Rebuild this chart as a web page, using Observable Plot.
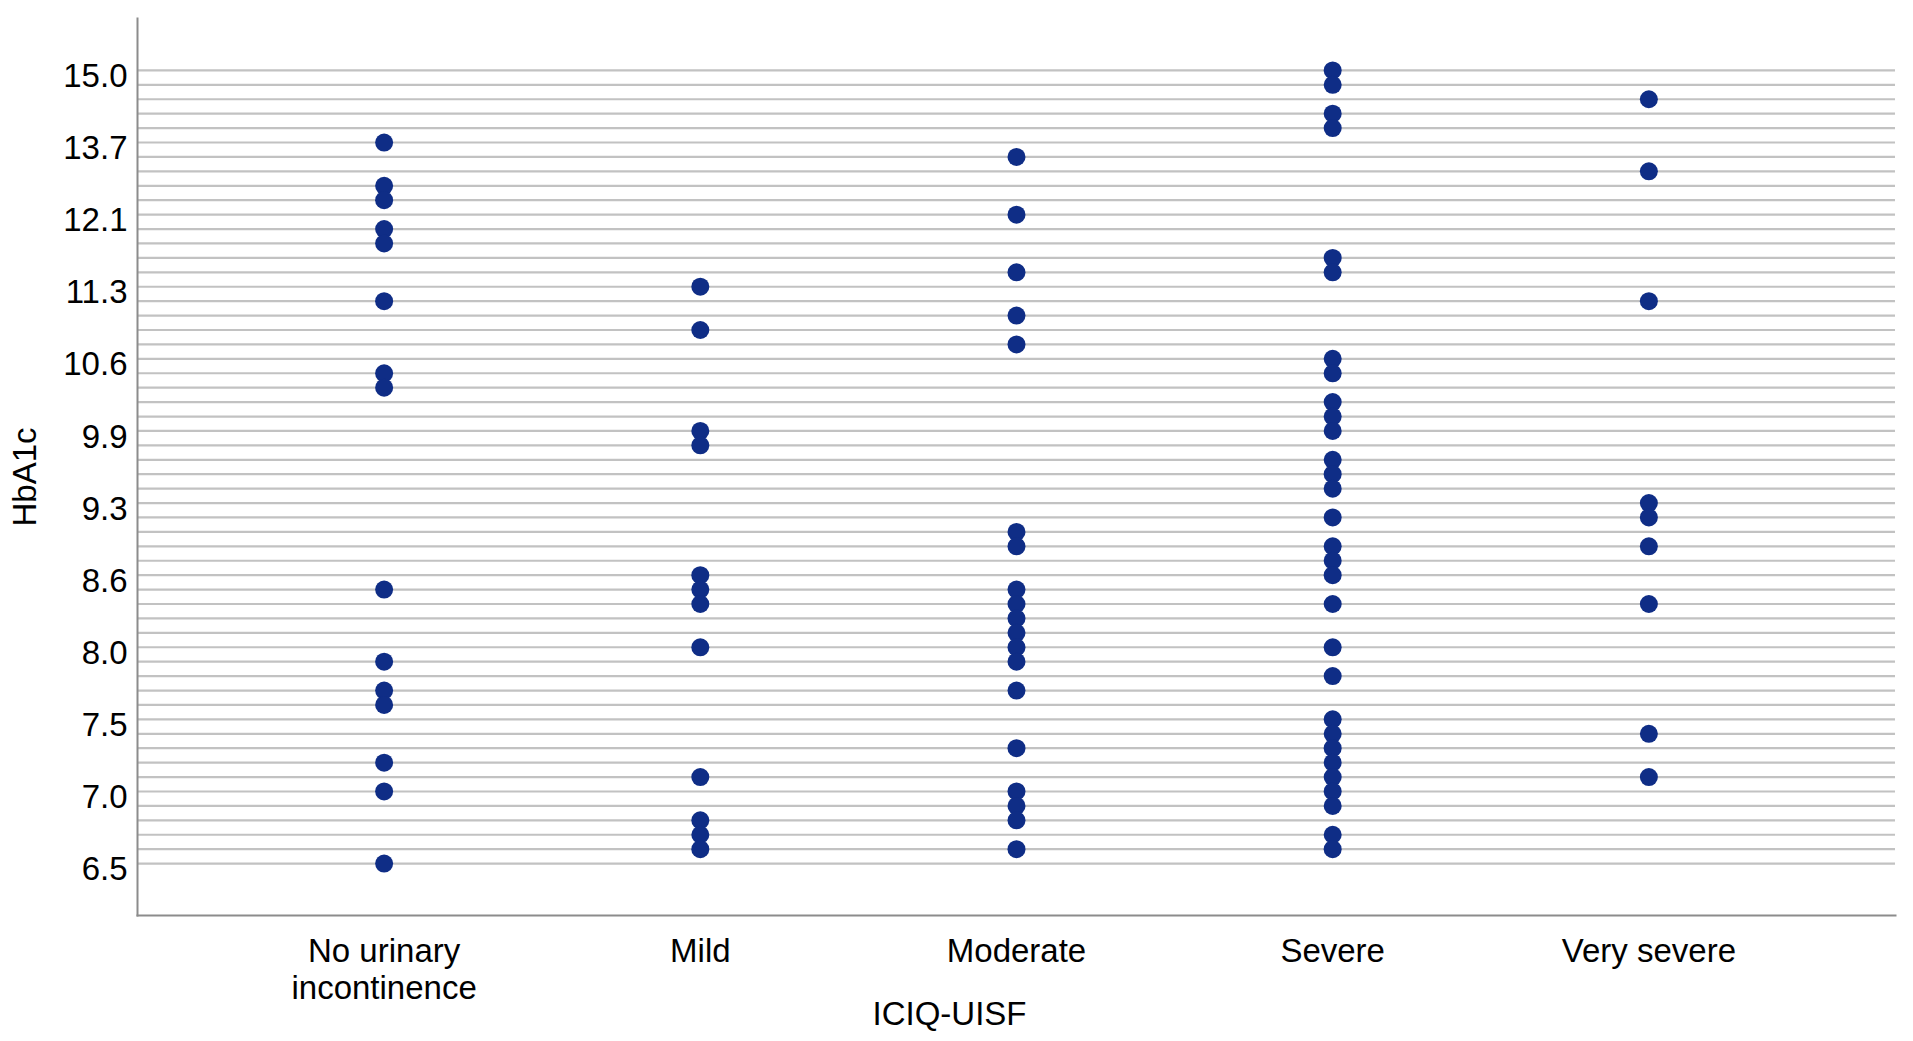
<!DOCTYPE html>
<html>
<head>
<meta charset="utf-8">
<script src="https://cdn.jsdelivr.net/npm/d3@7"></script>
<script src="https://cdn.jsdelivr.net/npm/@observablehq/plot@0.6"></script>
<style>
  html, body { margin: 0; padding: 0; background: #ffffff; }
  #chart { width: 1913px; height: 1041px; }
</style>
</head>
<body>
<div id="chart"></div>
<script>
// Categories (x axis)
const categories = ["No urinary incontinence", "Mild", "Moderate", "Severe", "Very severe"];
const categoryLabels = ["No urinary\nincontinence", "Mild", "Moderate", "Severe", "Very severe"];

// Distinct HbA1c levels (ordinal y axis, top to bottom)
const hba1cLevels = [
  15.0, 14.8, 14.5, 14.2, 14.0, 13.7, 13.4, 13.0, 12.7, 12.4,
  12.1, 11.9, 11.8, 11.6, 11.5, 11.3, 11.2, 11.0, 10.9, 10.7,
  10.6, 10.4, 10.3, 10.2, 10.0, 9.9, 9.8, 9.7, 9.6, 9.4,
  9.3, 9.1, 9.0, 8.9, 8.7, 8.6, 8.5, 8.4, 8.2, 8.1,
  8.0, 7.9, 7.8, 7.7, 7.6, 7.5, 7.4, 7.3, 7.2, 7.1,
  7.0, 6.9, 6.8, 6.7, 6.6, 6.5
];

// Tick labels shown on the y axis
const yTickLabels = [15.0, 13.7, 12.1, 11.3, 10.6, 9.9, 9.3, 8.6, 8.0, 7.5, 7.0, 6.5];

// Observed HbA1c values per ICIQ-UISF group
const noIncontinence = [13.7, 12.7, 12.4, 11.9, 11.8, 11.2, 10.4, 10.3, 8.5, 7.9, 7.7, 7.6, 7.2, 7.0, 6.5];
const mild = [11.3, 10.9, 9.9, 9.8, 8.6, 8.5, 8.4, 8.0, 7.1, 6.8, 6.7, 6.6];
const moderate = [13.4, 12.1, 11.5, 11.0, 10.7, 9.0, 8.9, 8.5, 8.4, 8.2, 8.1, 8.0, 7.9, 7.7, 7.3, 7.0, 6.9, 6.8, 6.6];
const severe = [15.0, 14.8, 14.2, 14.0, 11.6, 11.5, 10.6, 10.4, 10.2, 10.0, 9.9, 9.7, 9.6, 9.4, 9.1, 8.9, 8.7, 8.6, 8.4, 8.0, 7.8, 7.5, 7.4, 7.3, 7.2, 7.1, 7.0, 6.9, 6.7, 6.6];
const verySevere = [14.5, 13.0, 11.2, 9.3, 9.1, 8.9, 8.4, 7.4, 7.1];

const groups = [noIncontinence, mild, moderate, severe, verySevere];
const points = groups.flatMap((vals, i) => vals.map(v => ({group: categories[i], value: v})));
const labelOf = new Map(categories.map((c, i) => [c, categoryLabels[i]]));

const chart = Plot.plot({
  width: 1913,
  height: 1041,
  marginLeft: 137,
  marginRight: 18,
  marginTop: 18,
  marginBottom: 126,
  style: {
    fontFamily: "'Liberation Sans', Arial, Helvetica, sans-serif",
    fontSize: "33px",
    color: "#000000",
    background: "#ffffff",
    overflow: "visible"
  },
  x: {type: "point", domain: categories, padding: 0.78, round: false, label: null},
  y: {type: "point", domain: hba1cLevels, padding: 3.6, round: false, label: null},
  marks: [
    Plot.ruleY(hba1cLevels, {stroke: "#c2c2c2", strokeWidth: 2.2}),
    Plot.frame({anchor: "left", stroke: "#8c8c8c", strokeWidth: 2}),
    Plot.frame({anchor: "bottom", stroke: "#8c8c8c", strokeWidth: 2}),
    Plot.axisY({
      ticks: yTickLabels,
      tickFormat: d3.format(".1f"),
      tickSize: 0,
      tickPadding: 10,
      dy: 6,
      label: null
    }),
    Plot.axisX({
      tickSize: 0,
      tickPadding: 20,
      tickFormat: d => labelOf.get(d),
      lineHeight: 1.12,
      label: null
    }),
    Plot.dot(points, {x: "group", y: "value", r: 9, fill: "#0f2d86", stroke: "none"}),
    Plot.text(["HbA1c"], {text: d => d, frameAnchor: "left", textAnchor: "middle", lineAnchor: "middle", rotate: -90, dx: -112, dy: 10, fill: "#000"}),
    Plot.text(["ICIQ-UISF"], {text: d => d, frameAnchor: "bottom", textAnchor: "middle", lineAnchor: "middle", dx: -67, dy: 99, fill: "#000"})
  ]
});

document.getElementById("chart").appendChild(chart);
</script>
</body>
</html>
